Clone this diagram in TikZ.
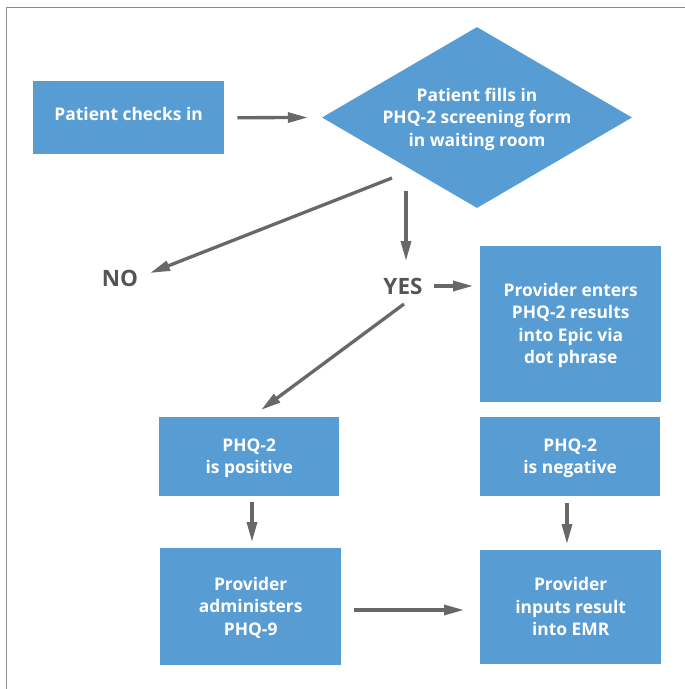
\documentclass[tikz,border=0pt]{standalone}
\usepackage{fontspec}
\setmainfont{Open Sans}
\usetikzlibrary{arrows.meta,shapes.geometric}
\definecolor{boxblue}{RGB}{88,156,212}
\definecolor{arrowgrey}{RGB}{104,104,104}
\definecolor{labelgrey}{RGB}{85,85,85}
\definecolor{framegrey}{RGB}{140,140,140}
% centred lines of box text, moved vertically without changing the box size
\newcommand\boxlines[2][-1.5pt]{%
  \raisebox{#1}[\height][\depth]{\begin{tabular}{@{}c@{}}#2\end{tabular}}}
\tikzset{
  boxfont/.style={font=\bfseries\fontsize{17.4}{22.5}\selectfont},
  stepbox/.style={boxfont, fill=boxblue, draw=none, inner sep=0pt,
    anchor=north west, text=white},
  decision/.style={diamond, fill=boxblue, draw=none, inner sep=0pt,
    minimum width=310pt, minimum height=181pt, text width=10pt,
    text=white},
  flowarrow/.style={draw=arrowgrey, line width=3.3pt,
    -{Triangle[length=20pt,width=10pt]}},
  answer/.style={text=labelgrey, inner sep=0pt,
    font=\bfseries\fontsize{22.5}{26}\selectfont}
}
\begin{document}
\begin{tikzpicture}[x=1pt,y=-1pt]
  % page and frame
  \fill[white] (0,0) rectangle (685,689);
  \useasboundingbox (0,0) rectangle (685,689);
  \draw[framegrey, line width=1pt] (6,689) -- (6,7) -- (685,7);

  % boxes
  \node[stepbox, minimum width=191pt, minimum height=73pt] (checkin) at (33,81)
    {\boxlines[2pt]{Patient checks in}};
  \node[decision] (form) at (477,117.5) {};
  \node[boxfont, text=white, inner sep=0pt] (formtext) at (477,117.5)
    {\boxlines{Patient fills in\\PHQ-2 screening form\\in waiting room}};
  \node[stepbox, minimum width=181pt, minimum height=156pt] (epic) at (480,246)
    {\boxlines{Provider enters\\PHQ-2 results\\into Epic via\\dot phrase}};
  \node[stepbox, minimum width=180pt, minimum height=79pt] (pos) at (159,417)
    {\boxlines{PHQ-2\\is positive}};
  \node[stepbox, minimum width=180pt, minimum height=79pt] (neg) at (480,417)
    {\boxlines{PHQ-2\\is negative}};
  \node[stepbox, minimum width=181pt, minimum height=117pt] (phq9) at (160,548)
    {\boxlines{Provider\\administers\\PHQ-9}};
  \node[stepbox, minimum width=181pt, minimum height=114pt] (emr) at (480,550)
    {\boxlines{Provider\\inputs result\\into EMR}};

  % answers
  \node[answer] (no) at (120,278.5) {NO};
  \node[answer] (yes) at (403,286) {YES};

  % arrow end points
  \coordinate (noA) at (392,178);
  \coordinate (noB) at (150,273);
  \coordinate (yesA) at (406,191);
  \coordinate (yesB) at (406,261);
  \coordinate (epicA) at (434,286);
  \coordinate (posA) at (404,304);
  \coordinate (posB) at (261,410);
  \coordinate (phqA) at (252,502);
  \coordinate (phqB) at (252,542);
  \coordinate (negA) at (567,503);
  \coordinate (negB) at (567,544);
  \coordinate (emrA) at (354,610);
  \coordinate (emrB) at (464,610);

  % connectors
  \draw[flowarrow] (checkin.east) ++(13,0) -- ([xshift=-14pt]form.west);
  \draw[flowarrow] (noA) -- (noB);
  \draw[flowarrow] (yesA) -- (yesB);
  \draw[flowarrow] (epicA) -- ([xshift=-7pt]epic.west |- epicA);
  \draw[flowarrow] (posA) -- (posB);
  \draw[flowarrow] (phqA) -- (phqB);
  \draw[flowarrow] (negA) -- (negB);
  \draw[flowarrow] (emrA) -- (emrB);
\end{tikzpicture}
\end{document}
